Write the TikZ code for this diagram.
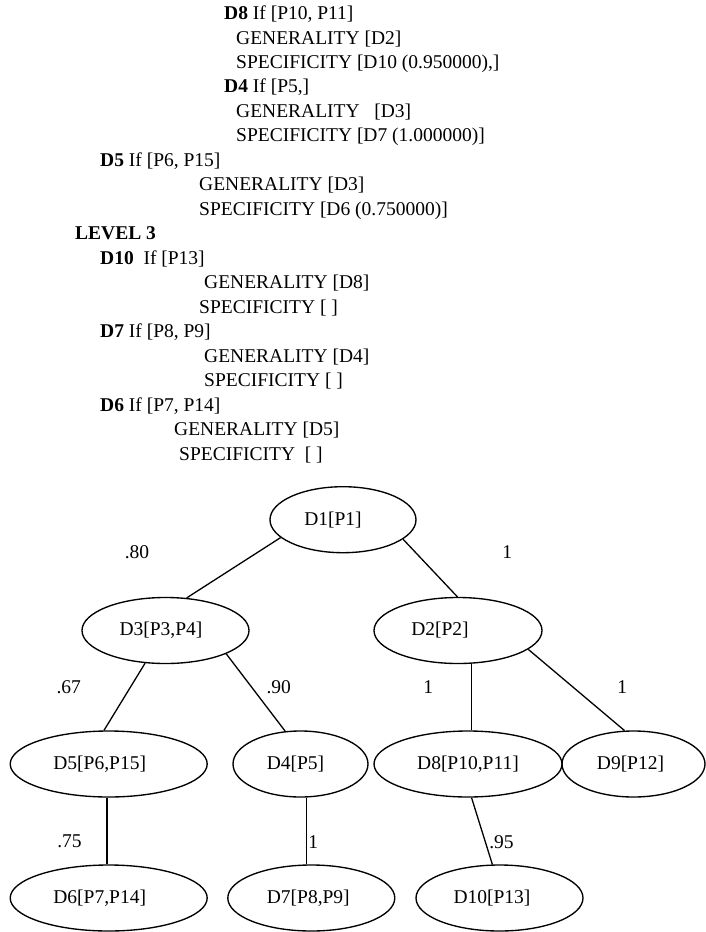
\documentclass[tikz,border=0pt]{standalone}
\usepackage{fontspec}
\setmainfont{Liberation Serif}
\usetikzlibrary{shapes.geometric}
\begin{document}
\begin{tikzpicture}[x=1pt,y=-1pt,
  every node/.style={font=\fontsize{19.5}{22}\selectfont, inner sep=0pt},
  txt/.style={anchor=base west},
  dn/.style={draw, ellipse, line width=1.35pt, minimum height=66pt},
  lbl/.style={anchor=center},
  edge/.style={line width=1.3pt}]
\useasboundingbox (0,0) rectangle (705,932);

% ---- text block ----
\node[txt] (t0)  at (224,19.5)  {\textbf{D8} If [P10, P11]};
\node[txt] (t1)  at (236,44.0)  {GENERALITY [D2]};
\node[txt] (t2)  at (236,68.4)  {SPECIFICITY [D10 (0.950000),]};
\node[txt] (t3)  at (224,92.9)  {\textbf{D4} If [P5,]};
\node[txt] (t4)  at (236,117.4) {GENERALITY\ \ \ [D3]};
\node[txt] (t5)  at (236,141.9) {SPECIFICITY [D7 (1.000000)]};
\node[txt] (t6)  at (100,166.3) {\textbf{D5} If [P6, P15]};
\node[txt] (t7)  at (199,190.8) {GENERALITY [D3]};
\node[txt] (t8)  at (199,215.3) {SPECIFICITY [D6 (0.750000)]};
\node[txt] (t9)  at (75,239.7)  {\textbf{LEVEL 3}};
\node[txt] (t10) at (100,264.2) {\textbf{D10}\ \ If [P13]};
\node[txt] (t11) at (204,288.7) {GENERALITY [D8]};
\node[txt] (t12) at (199,313.1) {SPECIFICITY [ ]};
\node[txt] (t13) at (100,337.6) {\textbf{D7} If [P8, P9]};
\node[txt] (t14) at (204,362.1) {GENERALITY [D4]};
\node[txt] (t15) at (204,386.6) {SPECIFICITY [ ]};
\node[txt] (t16) at (100,411.0) {\textbf{D6} If [P7, P14]};
\node[txt] (t17) at (174,435.5) {GENERALITY [D5]};
\node[txt] (t18) at (179,460.0) {SPECIFICITY\ \ [ ]};

% ---- tree ----
\node[dn, minimum width=146pt] (D1)  at (343,519.7) {D1[P1]\hspace*{20pt}};
\node[dn, minimum width=167pt] (D3)  at (165.5,630.5) {D3[P3,P4]\hspace*{9pt}};
\node[dn, minimum width=168pt] (D2)  at (458,630.5) {D2[P2]\hspace*{36pt}};
\node[dn, minimum width=197pt] (D5)  at (108.7,764) {D5[P6,P15]\hspace*{18pt}};
\node[dn, minimum width=135pt] (D4)  at (300.5,764) {D4[P5]\hspace*{10pt}};
\node[dn, minimum width=188pt] (D8)  at (468,764) {D8[P10,P11]};
\node[dn, minimum width=143pt] (D9)  at (633.5,764) {D9[P12]\hspace*{6pt}};
\node[dn, minimum width=197pt] (D6)  at (108.7,898) {D6[P7,P14]\hspace*{18pt}};
\node[dn, minimum width=167pt] (D7)  at (311.3,898) {D7[P8,P9]\hspace*{6pt}};
\node[dn, minimum width=167pt] (D10) at (499.5,898) {D10[P13]\hspace*{15pt}};

\draw[edge] (D1.196) -- (D3.57);
\draw[edge] (D1.342) -- (D2.91);
\draw[edge] (D3.238.5) -- (D5.98);
\draw[edge] (D3.339) -- (D4.115);
\draw[edge] (D8.84) -- (D8.84 |- D2.south);
\draw[edge] (D2.345) -- (D9.105);
\draw[edge] (D5.267) -- (D5.267 |- D6.north);
\draw[edge] (D7.98) -- (D7.98 |- D4.south);
\draw[edge] (D8.276) -- (D10.102);

% ---- edge labels ----
\node[lbl] (l1) at (137,552.5) {.80};
\node[lbl] (l2) at (507.3,552.5) {1};
\node[lbl] (l3) at (68.8,686.7) {.67};
\node[lbl] (l4) at (278.7,686.7) {.90};
\node[lbl] (l5) at (428.3,686.7) {1};
\node[lbl] (l6) at (622.3,686.7) {1};
\node[lbl] (l7) at (69.5,841.7) {.75};
\node[lbl] (l8) at (313.3,841.7) {1};
\node[lbl] (l9) at (501.5,841.7) {.95};
\end{tikzpicture}
\end{document}
